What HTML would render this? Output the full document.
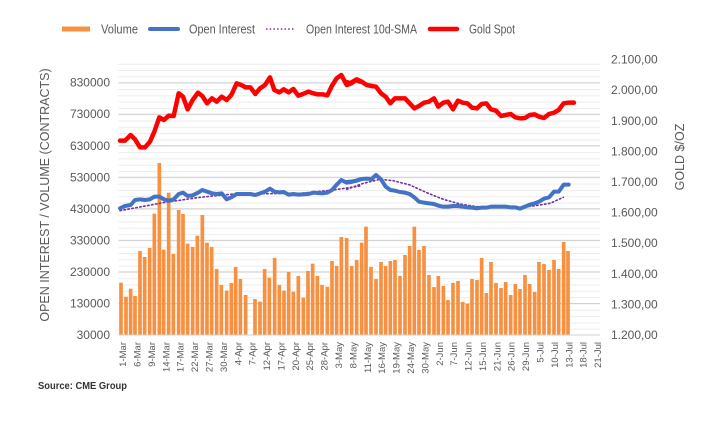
<!DOCTYPE html>
<html><head><meta charset="utf-8"><style>
html,body{margin:0;padding:0;background:#fff;}
svg{display:block;font-family:"Liberation Sans",sans-serif;}
</style></head><body>
<svg width="711" height="426" viewBox="0 0 711 426" xmlns="http://www.w3.org/2000/svg">
<defs>
<pattern id="mg" patternUnits="userSpaceOnUse" x="0" y="335" width="700" height="6.308">
<rect x="0" y="0" width="700" height="1" fill="#ececec"/>
</pattern>
</defs>
<rect width="711" height="426" fill="#fff"/>
<rect x="118.5" y="63" width="481.5" height="272" fill="url(#mg)"/>
<g stroke="#d0d0d0" stroke-width="1">
<line x1="118.5" x2="600" y1="303.5" y2="303.5"/>
<line x1="118.5" x2="600" y1="271.9" y2="271.9"/>
<line x1="118.5" x2="600" y1="240.4" y2="240.4"/>
<line x1="118.5" x2="600" y1="208.8" y2="208.8"/>
<line x1="118.5" x2="600" y1="177.3" y2="177.3"/>
<line x1="118.5" x2="600" y1="145.8" y2="145.8"/>
<line x1="118.5" x2="600" y1="114.2" y2="114.2"/>
<line x1="118.5" x2="600" y1="82.7" y2="82.7"/>
</g>
<g transform="translate(0,60) scale(0.33333)" fill="#f79040">
<rect x="357.5" y="668" width="11" height="157"/>
<rect x="372.5" y="710" width="11" height="115"/>
<rect x="386.5" y="686" width="11" height="139"/>
<rect x="399.5" y="708" width="11" height="117"/>
<rect x="414.5" y="573" width="11" height="252"/>
<rect x="428.5" y="591" width="11" height="234"/>
<rect x="443.5" y="564" width="11" height="261"/>
<rect x="457.5" y="461" width="11" height="364"/>
<rect x="472.5" y="309" width="11" height="516"/>
<rect x="485.5" y="569" width="11" height="256"/>
<rect x="500.5" y="398" width="11" height="427"/>
<rect x="514.5" y="582" width="11" height="243"/>
<rect x="530.5" y="450" width="11" height="375"/>
<rect x="543.5" y="462" width="11" height="363"/>
<rect x="557.5" y="551" width="11" height="274"/>
<rect x="572.5" y="561" width="11" height="264"/>
<rect x="586.5" y="527" width="11" height="298"/>
<rect x="601.5" y="465" width="11" height="360"/>
<rect x="615.5" y="548" width="11" height="277"/>
<rect x="629.5" y="561" width="11" height="264"/>
<rect x="644.5" y="627" width="11" height="198"/>
<rect x="658.5" y="675" width="11" height="150"/>
<rect x="674.5" y="692" width="11" height="133"/>
<rect x="688.5" y="669" width="11" height="156"/>
<rect x="701.5" y="621" width="11" height="204"/>
<rect x="715.5" y="657" width="11" height="168"/>
<rect x="731.5" y="705" width="11" height="120"/>
<rect x="759.5" y="717" width="11" height="108"/>
<rect x="774.5" y="725" width="11" height="100"/>
<rect x="788.5" y="627" width="11" height="198"/>
<rect x="802.5" y="653" width="11" height="172"/>
<rect x="818.5" y="594" width="11" height="231"/>
<rect x="832.5" y="675" width="11" height="150"/>
<rect x="846.5" y="692" width="11" height="133"/>
<rect x="860.5" y="636" width="11" height="189"/>
<rect x="874.5" y="695" width="11" height="130"/>
<rect x="889.5" y="648" width="11" height="177"/>
<rect x="904.5" y="713" width="11" height="112"/>
<rect x="918.5" y="633" width="11" height="192"/>
<rect x="932.5" y="611" width="11" height="214"/>
<rect x="946.5" y="648" width="11" height="177"/>
<rect x="960.5" y="675" width="11" height="150"/>
<rect x="976.5" y="680" width="11" height="145"/>
<rect x="990.5" y="603" width="11" height="222"/>
<rect x="1004.5" y="618" width="11" height="207"/>
<rect x="1018.5" y="531" width="11" height="294"/>
<rect x="1034.5" y="534" width="11" height="291"/>
</g>
<g transform="translate(350,60) scale(0.33333)" fill="#f79040">
<rect x="-0.5" y="618" width="11" height="207"/>
<rect x="14.5" y="600" width="11" height="225"/>
<rect x="29.5" y="548" width="11" height="277"/>
<rect x="42.5" y="500" width="11" height="325"/>
<rect x="57.5" y="621" width="11" height="204"/>
<rect x="72.5" y="657" width="11" height="168"/>
<rect x="87.5" y="606" width="11" height="219"/>
<rect x="101.5" y="618" width="11" height="207"/>
<rect x="115.5" y="603" width="11" height="222"/>
<rect x="129.5" y="600" width="11" height="225"/>
<rect x="144.5" y="648" width="11" height="177"/>
<rect x="159.5" y="585" width="11" height="240"/>
<rect x="173.5" y="558" width="11" height="267"/>
<rect x="187.5" y="500" width="11" height="325"/>
<rect x="201.5" y="570" width="11" height="255"/>
<rect x="216.5" y="558" width="11" height="267"/>
<rect x="231.5" y="645" width="11" height="180"/>
<rect x="246.5" y="681" width="11" height="144"/>
<rect x="259.5" y="648" width="11" height="177"/>
<rect x="274.5" y="678" width="11" height="147"/>
<rect x="288.5" y="720" width="11" height="105"/>
<rect x="303.5" y="669" width="11" height="156"/>
<rect x="318.5" y="663" width="11" height="162"/>
<rect x="332.5" y="726" width="11" height="99"/>
<rect x="346.5" y="732" width="11" height="93"/>
<rect x="360.5" y="657" width="11" height="168"/>
<rect x="375.5" y="660" width="11" height="165"/>
<rect x="389.5" y="594" width="11" height="231"/>
<rect x="403.5" y="699" width="11" height="126"/>
<rect x="417.5" y="606" width="11" height="219"/>
<rect x="432.5" y="669" width="11" height="156"/>
<rect x="447.5" y="684" width="11" height="141"/>
<rect x="461.5" y="666" width="11" height="159"/>
<rect x="476.5" y="705" width="11" height="120"/>
<rect x="490.5" y="672" width="11" height="153"/>
<rect x="504.5" y="687" width="11" height="138"/>
<rect x="519.5" y="645" width="11" height="180"/>
<rect x="533.5" y="672" width="11" height="153"/>
<rect x="548.5" y="696" width="11" height="129"/>
<rect x="561.5" y="606" width="11" height="219"/>
<rect x="576.5" y="612" width="11" height="213"/>
<rect x="591.5" y="630" width="11" height="195"/>
<rect x="606.5" y="600" width="11" height="225"/>
<rect x="620.5" y="627" width="11" height="198"/>
<rect x="635.5" y="546" width="11" height="279"/>
<rect x="648.5" y="573" width="11" height="252"/>
</g>
<line x1="118.5" x2="600" y1="335" y2="335" stroke="#d0d0d0"/>
<g transform="translate(0,60) scale(0.33333)" fill="none" stroke-linejoin="round" stroke-linecap="round">
<polyline vector-effect="non-scaling-stroke" stroke="#7030a0" stroke-width="1.6" stroke-dasharray="1.5,2.5" points="360,452 490,428 600,412 700,402 900,400 1000,390 1080,378"/>
<polyline vector-effect="non-scaling-stroke" stroke="#4472c4" stroke-width="4" points="360,445 375,438 392,435 405,420 420,418 435,420 450,418 463,410 478,410 492,418 506,422 521,418 536,402 549,398 563,408 578,406 594,398 607,390 621,395 636,400 650,402 665,400 680,418 694,412 710,402 724,402 751,402 766,405 780,400 795,395 810,386 823,395 838,397 851,396 866,404 880,402 895,404 925,402 940,398 968,400 982,398 996,390 1010,374 1024,360 1040,368 1054,366 1068,362 1080,358"/>
<polyline vector-effect="non-scaling-stroke" stroke="#ff0000" stroke-width="4.5" points="360,242 375,242 392,225 405,238 420,262 435,262 450,245 463,215 478,172 492,180 506,167 521,168 536,100 549,110 563,148 578,120 594,98 607,108 621,130 636,115 650,125 665,110 680,120 694,105 710,70 724,75 737,82 751,82 766,102 780,85 795,75 810,52 823,90 838,97 851,88 866,97 880,87 895,107 909,102 925,95 940,100 952,103 968,103 982,106 996,77 1010,55 1024,45 1040,75 1054,70 1068,60 1080,65"/>
</g>
<g transform="translate(350,60) scale(0.33333)" fill="none" stroke-linejoin="round" stroke-linecap="round">
<polyline vector-effect="non-scaling-stroke" stroke="#7030a0" stroke-width="1.6" stroke-dasharray="1.5,2.5" points="-10,388 40,370 90,358 130,362 180,375 230,398 280,418 330,432 380,440 430,442 500,443 550,438 600,430 640,412"/>
<polyline vector-effect="non-scaling-stroke" stroke="#4472c4" stroke-width="4" points="-10,366 0,365 20,362 35,357 50,356 65,357 78,345 93,358 107,380 121,390 135,392 150,396 165,398 179,402 193,412 207,425 222,428 237,430 252,432 265,437 280,440 294,440 309,438 324,438 338,440 352,442 366,443 381,445 395,443 409,443 423,440 438,440 453,440 467,440 482,442 496,442 510,446 525,440 539,434 554,430 567,425 582,416 597,412 612,395 626,395 641,374 656,374"/>
<polyline vector-effect="non-scaling-stroke" stroke="#ff0000" stroke-width="4.5" points="-10,66 0,70 20,58 35,65 50,75 65,78 78,80 93,100 107,110 121,130 135,115 150,115 165,115 179,130 193,145 207,138 222,128 237,125 252,115 265,140 280,128 294,125 309,148 324,122 338,128 352,130 366,143 381,145 395,132 409,130 423,148 438,152 453,168 467,165 482,162 496,172 510,175 525,174 539,165 554,163 567,170 582,174 597,162 612,158 626,150 641,130 654,128 672,128"/>
</g>
<g font-size="12" fill="#595959" text-anchor="end">
<text x="110" y="339">30000</text>
<text x="110" y="307.5">130000</text>
<text x="110" y="276">230000</text>
<text x="110" y="244.4">330000</text>
<text x="110" y="212.9">430000</text>
<text x="110" y="181.3">530000</text>
<text x="110" y="149.8">630000</text>
<text x="110" y="118.2">730000</text>
<text x="110" y="86.7">830000</text>
</g>
<g font-size="12" fill="#595959">
<text x="611" y="339">1.200,00</text>
<text x="611" y="308.4">1.300,00</text>
<text x="611" y="277.8">1.400,00</text>
<text x="611" y="247.2">1.500,00</text>
<text x="611" y="216.6">1.600,00</text>
<text x="611" y="186">1.700,00</text>
<text x="611" y="155.4">1.800,00</text>
<text x="611" y="124.8">1.900,00</text>
<text x="611" y="94.2">2.000,00</text>
<text x="611" y="63.6">2.100,00</text>
</g>
<g font-size="9.5" fill="#595959" text-anchor="end">
<text transform="translate(126.1,342) rotate(-90)">1-Mar</text>
<text transform="translate(140.5,342) rotate(-90)">6-Mar</text>
<text transform="translate(154.9,342) rotate(-90)">9-Mar</text>
<text transform="translate(169.3,342) rotate(-90)">14-Mar</text>
<text transform="translate(183.7,342) rotate(-90)">17-Mar</text>
<text transform="translate(198.1,342) rotate(-90)">22-Mar</text>
<text transform="translate(212.5,342) rotate(-90)">27-Mar</text>
<text transform="translate(226.9,342) rotate(-90)">30-Mar</text>
<text transform="translate(241.3,342) rotate(-90)">4-Apr</text>
<text transform="translate(255.6,342) rotate(-90)">7-Apr</text>
<text transform="translate(270.0,342) rotate(-90)">12-Apr</text>
<text transform="translate(284.4,342) rotate(-90)">17-Apr</text>
<text transform="translate(298.8,342) rotate(-90)">20-Apr</text>
<text transform="translate(313.2,342) rotate(-90)">25-Apr</text>
<text transform="translate(327.6,342) rotate(-90)">28-Apr</text>
<text transform="translate(342.0,342) rotate(-90)">3-May</text>
<text transform="translate(356.4,342) rotate(-90)">8-May</text>
<text transform="translate(370.8,342) rotate(-90)">11-May</text>
<text transform="translate(385.2,342) rotate(-90)">16-May</text>
<text transform="translate(399.6,342) rotate(-90)">19-May</text>
<text transform="translate(414.0,342) rotate(-90)">24-May</text>
<text transform="translate(428.4,342) rotate(-90)">30-May</text>
<text transform="translate(442.8,342) rotate(-90)">2-Jun</text>
<text transform="translate(457.2,342) rotate(-90)">7-Jun</text>
<text transform="translate(471.6,342) rotate(-90)">12-Jun</text>
<text transform="translate(485.9,342) rotate(-90)">15-Jun</text>
<text transform="translate(500.3,342) rotate(-90)">21-Jun</text>
<text transform="translate(514.7,342) rotate(-90)">26-Jun</text>
<text transform="translate(529.1,342) rotate(-90)">29-Jun</text>
<text transform="translate(543.5,342) rotate(-90)">5-Jul</text>
<text transform="translate(557.9,342) rotate(-90)">10-Jul</text>
<text transform="translate(572.3,342) rotate(-90)">13-Jul</text>
<text transform="translate(586.7,342) rotate(-90)">18-Jul</text>
<text transform="translate(601.1,342) rotate(-90)">21-Jul</text>
</g>
<text transform="translate(49,195) rotate(-90)" font-size="12.5" fill="#595959" text-anchor="middle">OPEN INTEREST / VOLUME (CONTRACTS)</text>
<text transform="translate(684,157) rotate(-90)" font-size="12.5" fill="#595959" text-anchor="middle">GOLD $/OZ</text>
<rect x="62" y="26.5" width="28" height="5" fill="#f79040"/>
<text x="101" y="33.5" font-size="12.5" fill="#595959" textLength="37" lengthAdjust="spacingAndGlyphs">Volume</text>
<line x1="150" x2="178" y1="29" y2="29" stroke="#4472c4" stroke-width="4" stroke-linecap="round"/>
<text x="189" y="33.5" font-size="12.5" fill="#595959" textLength="66" lengthAdjust="spacingAndGlyphs">Open Interest</text>
<line x1="266" x2="294" y1="29" y2="29" stroke="#7030a0" stroke-width="1.6" stroke-dasharray="1.5,2.2"/>
<text x="306" y="33.5" font-size="12.5" fill="#595959" textLength="111" lengthAdjust="spacingAndGlyphs">Open Interest 10d-SMA</text>
<line x1="430" x2="457" y1="29" y2="29" stroke="#ff0000" stroke-width="4.5" stroke-linecap="round"/>
<text x="469" y="33.5" font-size="12.5" fill="#595959" textLength="46" lengthAdjust="spacingAndGlyphs">Gold Spot</text>
<text x="38" y="389" font-size="10" font-weight="bold" fill="#333" textLength="89" lengthAdjust="spacingAndGlyphs">Source: CME Group</text>
</svg>
</body></html>
